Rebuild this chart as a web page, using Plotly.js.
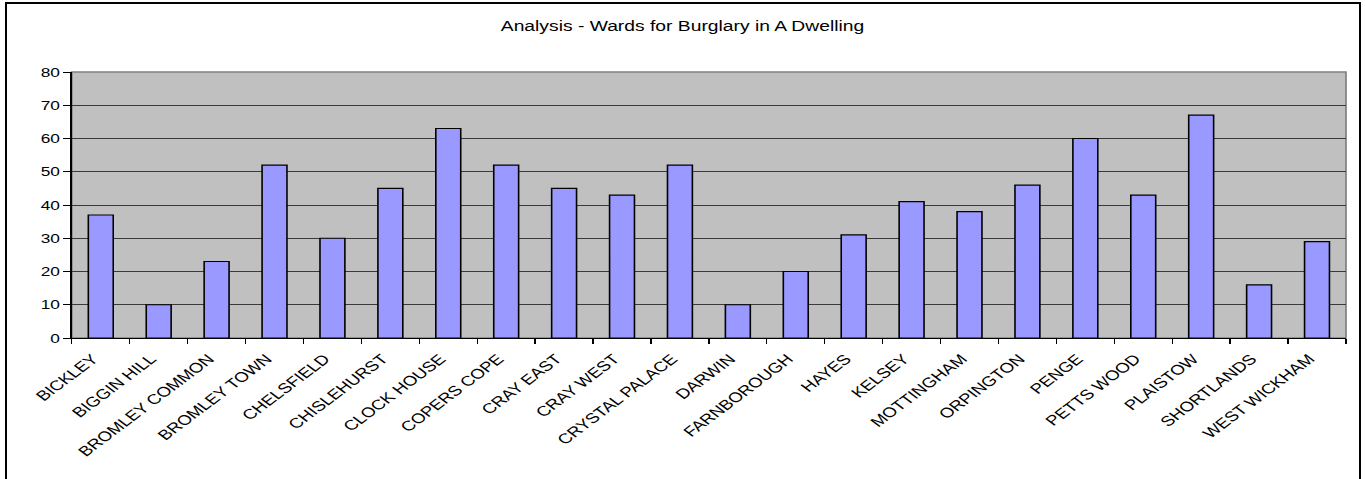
<!DOCTYPE html>
<html>
<head>
<meta charset="utf-8">
<script src="https://cdn.plot.ly/plotly-3.0.1.min.js"></script>
<style>
html,body{margin:0;padding:0;background:#fff;overflow:hidden;}
#wrap{position:relative;width:1365px;height:479px;overflow:hidden;}
#chart{position:absolute;left:0;top:0;transform-origin:0 0;}
#frame{position:absolute;left:5px;top:2px;width:1352px;height:520px;border:2px solid #000;pointer-events:none;}
</style>
</head>
<body>
<div id="wrap"><div id="chart"></div><div id="frame"></div></div>
<script>
const wards = ["BICKLEY","BIGGIN HILL","BROMLEY COMMON","BROMLEY TOWN","CHELSFIELD","CHISLEHURST","CLOCK HOUSE","COPERS COPE","CRAY EAST","CRAY WEST","CRYSTAL PALACE","DARWIN","FARNBOROUGH","HAYES","KELSEY","MOTTINGHAM","ORPINGTON","PENGE","PETTS WOOD","PLAISTOW","SHORTLANDS","WEST WICKHAM"];
const burglaries = [37,10,23,52,30,45,63,52,45,43,52,10,20,31,41,38,46,60,43,67,16,29];
const yTicks = [0,10,20,30,40,50,60,70,80];
const chartTitle = "Analysis - Wards for Burglary in A Dwelling";

// The reference picture is stretched horizontally; reproduce that stretch.
const SX = 1.33;
const W = 1365 / SX;
const el = document.getElementById("chart");
el.style.width = W + "px";
el.style.height = "479px";
el.style.transform = "scaleX(" + SX + ")";

const fam = "Liberation Sans, Arial, sans-serif";

const trace = {
  type: "bar",
  x: wards,
  y: burglaries,
  marker: {color: "#9999ff", line: {color: "#000000", width: 1.2}},
  hoverinfo: "x+y"
};

const layout = {
  width: W, height: 479,
  margin: {l: 72 / SX, r: 18 / SX, t: 72, b: 141},
  paper_bgcolor: "rgba(0,0,0,0)",
  plot_bgcolor: "#c0c0c0",
  showlegend: false,
  bargap: 0.57,
  font: {family: fam, size: 13, color: "#000"},
  title: {text: chartTitle, x: 0.5, xanchor: "center", y: 0.945, yanchor: "middle",
          font: {family: fam, size: 14.5, color: "#000"}},
  xaxis: {
    type: "category",
    tickangle: -45,
    ticks: "outside", ticklen: 5, tickcolor: "#000", tickwidth: 1,
    tickson: "boundaries",
    ticklabelstandoff: 6,
    ticklabelshift: -6,
    showline: true, linecolor: "#000", linewidth: 1.3,
    showgrid: false,
    tickfont: {family: fam, size: 14, color: "#000"},
    automargin: false
  },
  yaxis: {
    range: [0, 80],
    tickvals: yTicks,
    ticktext: yTicks.map(String),
    ticks: "outside", ticklen: 5, tickcolor: "#000", tickwidth: 1,
    showline: true, linecolor: "#000", linewidth: 1.3,
    showgrid: true, gridcolor: "#3a3a3a", gridwidth: 1,
    zeroline: false,
    tickfont: {family: fam, size: 13, color: "#000"},
    automargin: false
  },
  shapes: [{
    type: "rect", xref: "paper", yref: "paper", x0: 0, x1: 1, y0: 0, y1: 1,
    line: {color: "#808080", width: 1.3}, layer: "below"
  }]
};

Plotly.newPlot("chart", [trace], layout, {displayModeBar: false, staticPlot: true});
</script>
</body>
</html>
